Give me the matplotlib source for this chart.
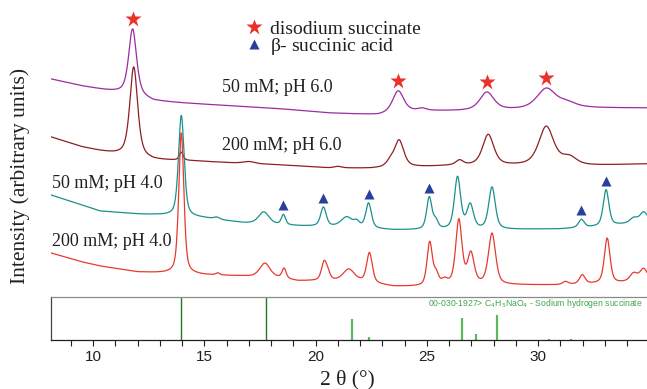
import numpy as np
import matplotlib.pyplot as plt
from matplotlib.lines import Line2D
from matplotlib.ticker import MultipleLocator

# XRD patterns: a background (knots) plus peaks
# (position in 2theta, height above background, FWHM). Arbitrary units.

# 50 mM; pH 6.0 (purple)
p60_50_bg_t = [8.1, 9.5, 10.5, 11.8, 12.7, 14.0, 16.3, 18.5, 20.6, 22.8, 24.6, 26.5, 28.7, 32.2, 34.9]
p60_50_bg_i = [218, 211, 207, 202, 196, 194, 191, 188, 184, 182, 186, 186, 187, 189, 189]
p60_50_pos = [11.77, 23.71, 24.8, 27.70, 30.37, 31.3]
p60_50_height = [66, 22, 2, 18, 20, 5]
p60_50_width = [0.42, 0.6, 0.4, 0.75, 1.0, 1.0]

# 200 mM; pH 6.0 (brown)
p60_200_bg_t = [8.1, 9.5, 10.3, 11.0, 12.7, 14.5, 16.3, 18.5, 20.6, 22.5, 24.7, 26.0, 28.8, 31.9, 34.9]
p60_200_bg_i = [160, 150, 146, 143, 137, 136, 134, 132, 129, 128.5, 130, 131, 131, 131, 133]
p60_200_pos = [11.82, 13.96, 17.0, 21.0, 23.35, 23.75, 26.47, 27.76, 30.37, 31.4]
p60_200_height = [90, 8, 2, 1.5, 5, 27, 5, 31, 39, 8]
p60_200_width = [0.42, 0.2, 0.6, 0.4, 0.4, 0.5, 0.4, 0.6, 0.8, 0.8]

# 50 mM; pH 4.0 (teal)
p40_50_bg_t = [8.1, 9.5, 10.3, 12.0, 13.0, 15.0, 16.8, 19.3, 21.0, 23.5, 24.8, 28.8, 31.0, 32.5, 34.0, 34.9]
p40_50_bg_i = [102, 92, 86, 83, 82, 79, 74, 71, 70, 67, 67, 67.5, 68, 70, 73, 75]
p40_50_pos = [13.96, 15.55, 17.67, 18.55, 20.35, 21.4, 21.85, 22.38, 25.11, 25.4,
              26.38, 26.95, 27.93, 31.95, 33.06, 34.3, 34.75]
p40_50_height = [101, 2, 12, 10, 19, 10, 5, 25, 32, 8, 52, 24, 42, 8, 36, 5, 10]
p40_50_width = [0.3, 0.3, 0.55, 0.22, 0.3, 0.6, 0.3, 0.3, 0.28, 0.25,
                0.33, 0.35, 0.35, 0.3, 0.3, 0.4, 0.4]

# 200 mM; pH 4.0 (red)
p40_200_bg_t = [8.1, 9.5, 10.3, 12.0, 13.0, 15.0, 16.5, 18.3, 19.2, 20.8, 22.0, 23.5, 24.8,
                25.8, 28.8, 31.0, 33.6, 34.9]
p40_200_bg_i = [44, 35, 31, 25, 24, 22, 21, 19, 16, 16, 15, 10.5, 10.3, 12, 12, 12, 14, 16]
p40_200_pos = [13.96, 15.6, 17.72, 18.58, 20.38, 20.55, 21.49, 22.42, 25.13, 25.42, 25.8,
               26.44, 26.98, 27.93, 31.23, 31.99, 33.11, 34.3, 34.75]
p40_200_height = [141, 2, 14, 10, 18, 6, 12, 30, 43, 10, 4, 64, 30, 51, 3, 9, 45, 8, 12]
p40_200_width = [0.27, 0.2, 0.55, 0.22, 0.28, 0.25, 0.6, 0.3, 0.28, 0.25, 0.3,
                 0.33, 0.35, 0.38, 0.3, 0.3, 0.3, 0.4, 0.4]

# marked reflections
star_pos = [11.77, 23.71, 27.70, 30.37]          # disodium succinate, on 50 mM pH 6.0
triangle_pos = [18.55, 20.35, 22.38, 25.11, 31.95, 33.06]  # beta succinic acid, on 50 mM pH 4.0

# reference card 00-030-1927 (relative intensity, %)
ref_pos_strong = [13.96, 17.75]
ref_int_strong = [100, 100]
ref_pos = [21.65, 22.4, 26.56, 27.2, 28.15, 30.5, 31.5]
ref_int = [48, 8, 52, 14, 58, 2, 2]

labels = ["50 mM; pH 6.0", "200 mM; pH 6.0", "50 mM; pH 4.0", "200 mM; pH 4.0"]
colors = ["#9e2aa0", "#8e1f22", "#1a918c", "#e8392f"]


def pattern(x, bg_t, bg_i, pos, height, width, eta=0.5):
    y = np.interp(x, bg_t, bg_i)
    for c, h, w in zip(pos, height, width):
        d = (x - c) / w
        y = y + h * (eta / (1 + 4 * d ** 2) + (1 - eta) * np.exp(-4 * np.log(2) * d ** 2))
    return y


serif = ["Liberation Serif", "DejaVu Serif"]
sans = ["Liberation Sans", "DejaVu Sans"]
dark = "#231f20"

x = np.linspace(8.1, 34.9, 2700)
curves = [
    pattern(x, p60_50_bg_t, p60_50_bg_i, p60_50_pos, p60_50_height, p60_50_width, eta=0.6),
    pattern(x, p60_200_bg_t, p60_200_bg_i, p60_200_pos, p60_200_height, p60_200_width, eta=0.6),
    pattern(x, p40_50_bg_t, p40_50_bg_i, p40_50_pos, p40_50_height, p40_50_width),
    pattern(x, p40_200_bg_t, p40_200_bg_i, p40_200_pos, p40_200_height, p40_200_width),
]

fig = plt.figure(figsize=(6.47, 3.89), dpi=100)
ax = fig.add_axes([51 / 647, 92 / 389, 596 / 647, 297 / 389])
ax_ref = fig.add_axes([51 / 647, 49 / 389, 596 / 647, 43 / 389], sharex=ax)

for y, c in zip(curves, colors):
    ax.plot(x, y, color=c, lw=0.9)

# symbols above the peaks
star_y = np.interp(star_pos, x, curves[0]) + 10
ax.plot(star_pos, star_y, ls="", marker="*", ms=12, color="#e8322a", mec="none")
tri_y = np.interp(triangle_pos, x, curves[2]) + 9
ax.plot(triangle_pos, tri_y, ls="", marker="^", ms=7, color="#2a3f9d", mec="none")

# curve labels
label_xy = [(15.8, 209), (15.8, 151), (8.15, 114), (8.15, 56)]
for (lx, ly), t in zip(label_xy, labels):
    ax.text(lx, ly, t, family=serif, fontsize=13, color=dark, va="center", ha="left")

handles = [
    Line2D([], [], ls="", marker="*", ms=12, color="#e8322a", mec="none", label="disodium succinate"),
    Line2D([], [], ls="", marker="^", ms=7, color="#2a3f9d", mec="none", label=r"$\mathregular{\beta}$- succinic acid"),
]
ax.legend(handles=handles, loc="upper left", bbox_to_anchor=(0.315, 0.958), frameon=False,
          prop={"family": serif, "size": 14}, handlelength=0.8, handletextpad=0.4,
          labelspacing=-0.1, borderaxespad=0, labelcolor=dark)

ax.set_xlim(8.1, 34.9)
ax.set_ylim(0, 297)
ax.axis("off")

# reference stick pattern
ax_ref.vlines(ref_pos_strong, 0, ref_int_strong, color="#1f7a22", lw=1.0)
ax_ref.vlines(ref_pos, 0, ref_int, color="#5cb85c", lw=1.6)
ax_ref.text(0.993, 0.86, r"00-030-1927> C$_4$H$_5$NaO$_4$ - Sodium hydrogen succinate",
            transform=ax_ref.transAxes, ha="right", va="center", fontsize=6.2,
            family=sans, color="#3fa64a")
ax_ref.set_ylim(0, 100)
ax_ref.set_yticks([])
ax_ref.xaxis.set_major_locator(MultipleLocator(5))
ax_ref.xaxis.set_minor_locator(MultipleLocator(1))
ax_ref.tick_params(axis="x", which="both", direction="out", length=4, width=0.8,
                   color=dark, labelsize=11, pad=3, labelcolor=dark)
for lab in ax_ref.get_xticklabels():
    lab.set_family(sans)
ax_ref.spines["right"].set_visible(False)
ax_ref.spines["top"].set_color("#8a8a8a")
ax_ref.spines["left"].set_color("#444444")
ax_ref.spines["bottom"].set_color(dark)
for s in ax_ref.spines.values():
    s.set_linewidth(0.9)

fig.text(20 / 647, 1 - 176 / 389, "Intensity (arbitrary units)", rotation=90,
         family=serif, fontsize=15.5, color=dark, ha="center", va="center")
fig.text(347 / 647, 1 - 380 / 389, "2 \u03b8 (\u00b0)", family=serif, fontsize=15.5,
         color=dark, ha="center", va="center")

fig.savefig("out.png", dpi=100)
